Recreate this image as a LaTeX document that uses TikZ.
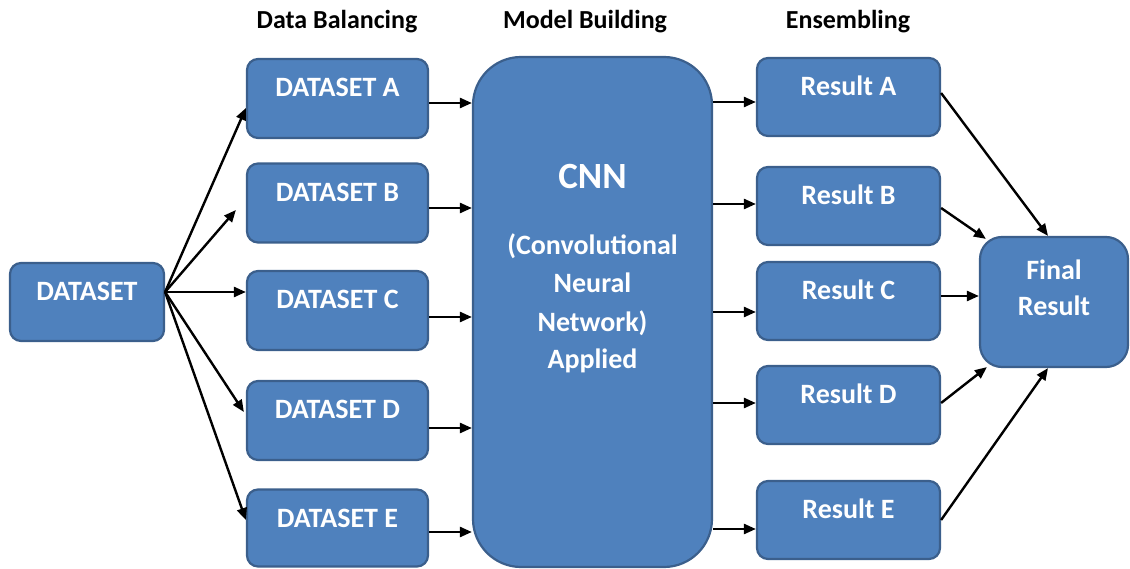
\documentclass[tikz,border=0pt]{standalone}
\usepackage{fontspec}
\setmainfont{Carlito}
\usetikzlibrary{arrows.meta,calc}

\definecolor{boxfill}{HTML}{4F81BD}
\definecolor{boxline}{HTML}{3B5F8C}

\tikzset{
  box/.style={draw=boxline, fill=boxfill, line width=2.2pt, rounded corners=11pt,
              inner sep=0pt, minimum width=#1},
  box/.default=181pt,
  txt/.style={text=white, font=\bfseries\fontsize{28}{32}\selectfont, anchor=base, inner sep=0pt},
  head/.style={text=black, font=\bfseries\fontsize{26}{30}\selectfont, anchor=base, inner sep=0pt},
  arr/.style={line width=2.4pt, -{Triangle[length=12pt,width=10pt]}},
}

\begin{document}
\begin{tikzpicture}[x=1pt,y=-1pt]
\useasboundingbox (0,0) rectangle (1130,569);

% column headings
\node[head] (h1) at (337,29) {Data Balancing};
\node[head] (h2) at (585,29) {Model Building};
\node[head] (h3) at (848,29) {Ensembling};

% source dataset
\node[box=154pt, minimum height=78pt] (ds) at (87,302) {};
\node[txt] (tds) at ([yshift=-39pt]ds.north) {DATASET};

% balanced datasets
\node[box, minimum height=79pt] (A) at (337.5,98.5) {};
\node[box, minimum height=79pt] (B) at (337.5,203) {};
\node[box, minimum height=79pt] (C) at (337.5,310.5) {};
\node[box, minimum height=79pt] (D) at (337.5,420.5) {};
\node[box, minimum height=77pt] (E) at (337.5,528) {};
\node[txt] (tA) at ([yshift=-39pt]A.north) {DATASET A};
\node[txt] (tB) at ([yshift=-39pt]B.north) {DATASET B};
\node[txt] (tC) at ([yshift=-39pt]C.north) {DATASET C};
\node[txt] (tD) at ([yshift=-39pt]D.north) {DATASET D};
\node[txt] (tE) at ([yshift=-39pt]E.north) {DATASET E};

% model
\node[box=239pt, minimum height=510pt, rounded corners=48pt] (cnn) at (592.5,312) {};
\node[txt, font=\bfseries\fontsize{37}{42}\selectfont] (t1) at (592.5,189) {CNN};
\node[txt] (t2) at (592.5,255) {(Convolutional};
\node[txt] (t3) at (592.5,293) {Neural};
\node[txt] (t4) at (592.5,331) {Network)};
\node[txt] (t5) at (592.5,368) {Applied};

% model outputs
\node[box=183pt, minimum height=78pt] (RA) at (848.5,97) {};
\node[box=183pt, minimum height=78pt] (RB) at (848.5,206) {};
\node[box=183pt, minimum height=78pt] (RC) at (848.5,301) {};
\node[box=183pt, minimum height=78pt] (RD) at (848.5,405) {};
\node[box=183pt, minimum height=78pt] (RE) at (848.5,520) {};
\node[txt] (tRA) at ([yshift=-39pt]RA.north) {Result A};
\node[txt] (tRB) at ([yshift=-39pt]RB.north) {Result B};
\node[txt] (tRC) at ([yshift=-39pt]RC.north) {Result C};
\node[txt] (tRD) at ([yshift=-39pt]RD.north) {Result D};
\node[txt] (tRE) at ([yshift=-39pt]RE.north) {Result E};

% combined output
\node[box=148pt, minimum height=130pt, rounded corners=22pt] (F) at (1054,302) {};
\node[txt] (tF1) at (1054,280) {Final};
\node[txt] (tF2) at (1054,316) {Result};

% splitting the dataset
\draw[arr] ([yshift=10pt]ds.east) -- ([yshift=-9.5pt]A.west);
\draw[arr] ([yshift=10pt]ds.east) -- ([xshift=-10pt,yshift=-7pt]B.west);
\draw[arr] ([yshift=10pt]ds.east) -- ([yshift=18.5pt]C.west);
\draw[arr] ([yshift=10pt]ds.east) -- ([xshift=-2pt,yshift=8.5pt]D.west);
\draw[arr] ([yshift=10pt]ds.east) -- ([yshift=8pt]E.west);

% datasets into the model
\draw[arr] ([yshift=-4.5pt]A.east) -- ([yshift=-4.5pt]A.east -| cnn.west);
\draw[arr] ([yshift=-5pt]B.east) -- ([yshift=-5pt]B.east -| cnn.west);
\draw[arr] ([yshift=-6.5pt]C.east) -- ([yshift=-6.5pt]C.east -| cnn.west);
\draw[arr] ([yshift=-7.5pt]D.east) -- ([yshift=-7.5pt]D.east -| cnn.west);
\draw[arr] ([yshift=-4pt]E.east) -- ([yshift=-4pt]E.east -| cnn.west);

% model into results
\draw[arr] ([yshift=-5pt]RA.west -| cnn.east) -- ([yshift=-5pt]RA.west);
\draw[arr] ([yshift=2pt]RB.west -| cnn.east) -- ([yshift=2pt]RB.west);
\draw[arr] ([yshift=-11pt]RC.west -| cnn.east) -- ([yshift=-11pt]RC.west);
\draw[arr] ([yshift=2pt]RD.west -| cnn.east) -- ([yshift=2pt]RD.west);
\draw[arr] ([yshift=-9pt]RE.west -| cnn.east) -- ([yshift=-9pt]RE.west);

% results into the final result
\draw[arr] ([yshift=4pt]RA.east) -- ([xshift=-6pt]F.north);
\draw[arr] ([yshift=-2pt]RB.east) -- ([xshift=7pt,yshift=-3pt]F.north west);
\draw[arr] ([yshift=5pt]RC.east) -- ([yshift=6pt]F.west);
\draw[arr] ([yshift=2pt]RD.east) -- ([xshift=8pt,yshift=1pt]F.south west);
\draw[arr] ([yshift=0pt]RE.east) -- ([xshift=-6pt]F.south);
\end{tikzpicture}
\end{document}
